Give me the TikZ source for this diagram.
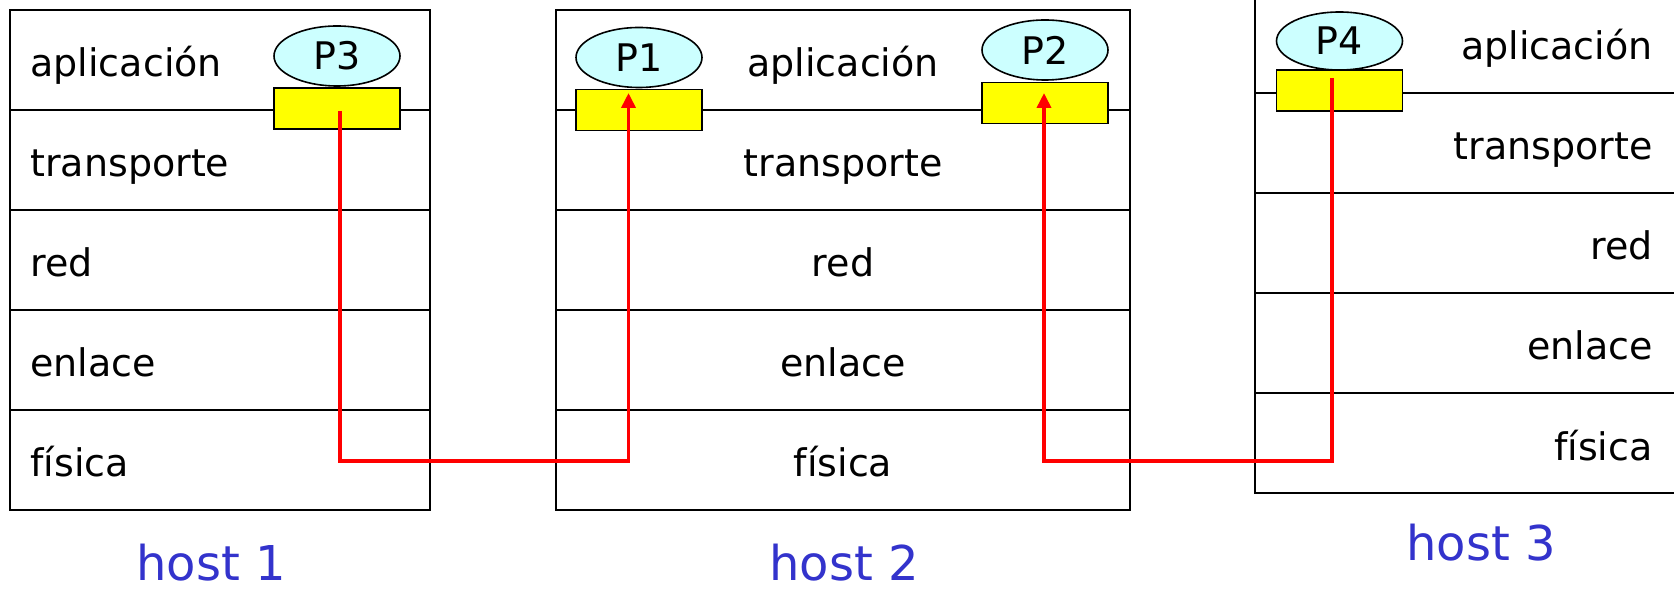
\documentclass[tikz,border=0pt]{standalone}
\usepackage{fontspec}
\setmainfont{DejaVu Sans}
\usetikzlibrary{arrows.meta,shapes.geometric}
\definecolor{proccyan}{HTML}{CCFFFF}
\definecolor{sockyellow}{HTML}{FFFF00}
\definecolor{hostblue}{HTML}{3333CC}
\tikzset{
  layer/.style={draw, line width=0.9pt, minimum height=50pt, inner sep=0pt, outer sep=0pt},
  layertext/.style={inner sep=0pt, font=\fontsize{19}{22}\selectfont},
  proc/.style={ellipse, draw, line width=0.8pt, fill=proccyan, minimum width=63pt,
    minimum height=30pt, inner sep=0pt, font=\fontsize{19}{22}\selectfont},
  sock/.style={rectangle, draw, line width=0.8pt, fill=sockyellow, minimum width=63pt,
    minimum height=20.5pt, inner sep=0pt},
  link/.style={draw=red, line width=1.8pt},
  linkarrow/.style={link, -{Triangle[width=7pt,length=7.5pt]}},
  hostlabel/.style={text=hostblue, inner sep=0pt, anchor=base, font=\fontsize{24}{28}\selectfont}
}
\begin{document}
\begin{tikzpicture}[x=0.5pt, y=-0.5pt]
  \useasboundingbox (0,0) rectangle (1674,592);
  \fill[white] (0,0) rectangle (1674,592);
  \clip (0,0) rectangle (1674,592);

  % host 1: protocol stack, labels left-aligned
  \foreach [count=\i] \t in {aplicación, transporte, red, enlace, física} {
    \node[layer, minimum width=210pt] (h1-\i) at (220, {100*\i-40}) {};
    \node[layertext, anchor=base west] (h1t-\i) at ([xshift=10pt, yshift=16.5pt]h1-\i.south west) {\t};
  }
  % host 2: protocol stack, labels centred
  \foreach [count=\i] \t in {aplicación, transporte, red, enlace, física} {
    \node[layer, minimum width=287pt] (h2-\i) at (843, {100*\i-40}) {};
    \node[layertext, anchor=base] (h2t-\i) at ([yshift=16.5pt]h2-\i.south) {\t};
  }
  % host 3: protocol stack, labels right-aligned
  \foreach [count=\i] \t in {aplicación, transporte, red, enlace, física} {
    \node[layer, minimum width=232.5pt] (h3-\i) at (1487.5, {100*\i-57}) {};
    \node[layertext, anchor=base east] (h3t-\i) at ([xshift=199pt, yshift=16.5pt]h3-\i.south west) {\t};
  }

  % processes and their sockets
  \node[proc] (p3) at (337,56) {P3};
  \node[sock] (s3) at (337,108.5) {};
  \node[proc] (p1) at (639,57.5) {P1};
  \node[sock] (s1) at (639,110) {};
  \node[proc] (p2) at (1045,50) {P2};
  \node[sock] (s2) at (1045,103) {};
  \node[proc, minimum height=29pt] (p4) at (1339.5,41) {P4};
  \node[sock] (s4) at (1339.5,90.5) {};

  % logical paths between processes
  \coordinate (a3) at (340,111);
  \coordinate (b1) at (340,461);
  \coordinate (a1) at (628.5,93);
  \coordinate (a4) at (1332,78);
  \coordinate (b2) at (1332,461);
  \coordinate (a2) at (1044,93);
  \draw[linkarrow] (a3) -- (b1) -| (a1);
  \draw[linkarrow] (a4) -- (b2) -| (a2);

  % host names
  \node[hostlabel] (n1) at (211,580) {host 1};
  \node[hostlabel] (n2) at (844,580) {host 2};
  \node[hostlabel] (n3) at (1481,560) {host 3};
\end{tikzpicture}
\end{document}
